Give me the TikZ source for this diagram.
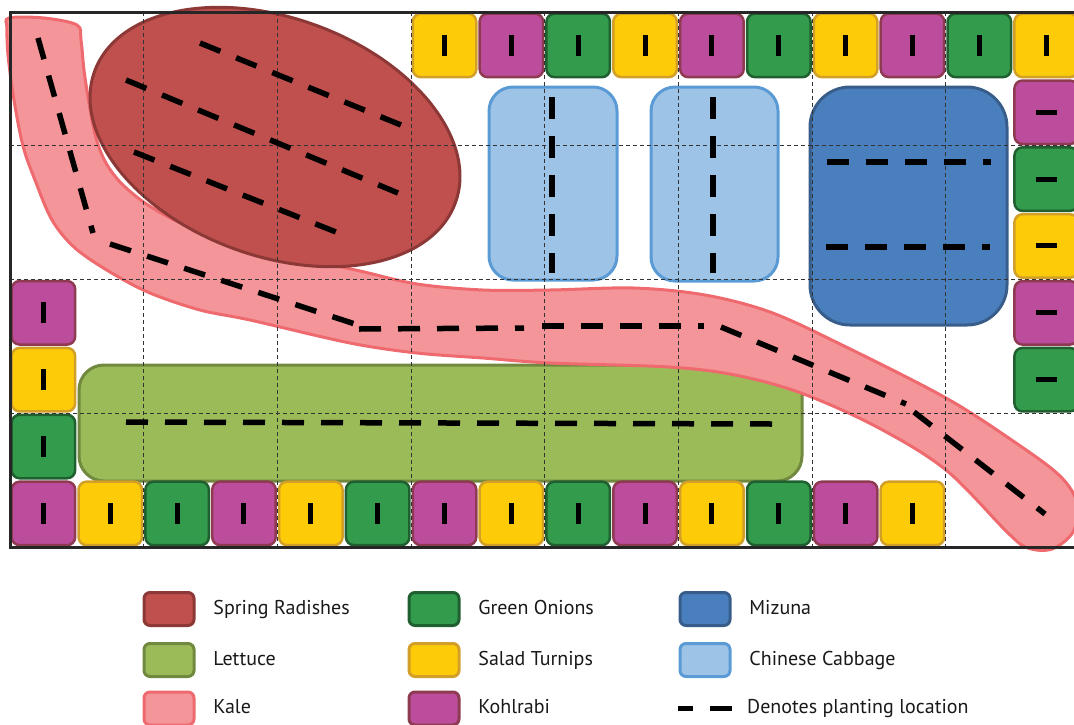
\documentclass[tikz,border=0pt]{standalone}
\usepackage{fontspec}
\setmainfont{PT Sans}
\usetikzlibrary{positioning}

\definecolor{radishFill}{HTML}{C0504D}
\definecolor{radishLine}{HTML}{8C3836}
\definecolor{lettuceFill}{HTML}{9BBB59}
\definecolor{lettuceLine}{HTML}{71893F}
\definecolor{kaleFill}{HTML}{F49599}
\definecolor{kaleLine}{HTML}{EE6A6E}
\definecolor{onionFill}{HTML}{339B4C}
\definecolor{onionLine}{HTML}{1F5F30}
\definecolor{turnipFill}{HTML}{FDCB08}
\definecolor{turnipLine}{HTML}{D29F28}
\definecolor{kohlFill}{HTML}{BC4D9C}
\definecolor{kohlLine}{HTML}{8E3A50}
\definecolor{mizunaFill}{HTML}{4A7FBE}
\definecolor{mizunaLine}{HTML}{385D8A}
\definecolor{cabbageFill}{HTML}{9DC3E6}
\definecolor{cabbageLine}{HTML}{5B9BD5}

\tikzset{
  crop/.style={fill=#1Fill, draw=#1Line},
  bed/.style={line width=3pt},
  tile/.style={rectangle, rounded corners=8pt, line width=2.5pt,
    minimum size=63.5pt, inner sep=0pt},
  plant/.style={line width=5.5pt, dash pattern=on 22pt off 17pt},
  plotgrid/.style={line width=1.1pt, draw=black!80, dash pattern=on 4pt off 3pt},
  swatch/.style={rectangle, rounded corners=6pt, line width=3pt,
    minimum width=50pt, minimum height=33pt},
  legtext/.style={inner sep=0pt, text height=14pt, text depth=4pt,
    font=\fontsize{20pt}{24pt}\selectfont, text=black!90}
}

\begin{document}
\begin{tikzpicture}[x=1pt, y=-1pt]
    \useasboundingbox (0,0) rectangle (1074,724);

    % beds
    \draw[crop=lettuce, bed, rounded corners=25pt] (79,365) rectangle (802,481);
    \draw[crop=kale, bed] plot[smooth cycle, tension=0.55] coordinates {
      (9,18) (44,18) (77,25) (81,40) (84,70) (89,103) (96,138) (106,163)
      (122,184) (148,205) (185,225) (240,245) (300,258) (360,271) (417,284)
      (483,290) (550,290) (634,288) (705,295) (770,312) (840,344) (946,398)
      (1016,443) (1060,476) (1077,503) (1073,532) (1052,549) (1028,548)
      (1008,533) (946,470) (877,427) (801,393) (735,375) (669,367) (550,363)
      (483,358) (417,353) (350,343) (250,320) (200,310) (150,293) (110,272)
      (75,248) (52,220) (35,180) (23,146) (14,100) (8,55) (7,28)};
    \draw[crop=radish, bed, rotate around={-20:(275,137)}]
      (275,137) ellipse [x radius=192pt, y radius=119pt];
    \draw[crop=cabbage, bed, rounded corners=24pt] (489,87) rectangle (617,280);
    \draw[crop=cabbage, bed, rounded corners=24pt] (651,87) rectangle (778,281);
    \draw[crop=mizuna, bed, rounded corners=40pt] (810,87) rectangle (1007,325);

    % border tiles
    \foreach \i/\c in {6/turnip,7/kohl,8/onion,9/turnip,10/kohl,11/onion,
                       12/turnip,13/kohl,14/onion,15/turnip}
      \node[tile, crop=\c] (top\i) at ({10+66.85*(\i+0.5)},45.4) {\rule{5pt}{21pt}};
    \foreach \j/\c in {1/kohl,2/onion,3/turnip,4/kohl,5/onion}
      \node[tile, crop=\c] (rgt\j) at (1046.2,{12+66.85*(\j+0.5)}) {\rule{21pt}{5pt}};
    \foreach \j/\c in {4/kohl,5/turnip,6/onion}
      \node[tile, crop=\c] (lft\j) at (43.4,{12+66.85*(\j+0.5)}) {\rule{5pt}{21pt}};
    \foreach \i/\c in {0/kohl,1/turnip,2/onion,3/kohl,4/turnip,5/onion,6/kohl,
                       7/turnip,8/onion,9/kohl,10/turnip,11/onion,12/kohl,13/turnip}
      \node[tile, crop=\c] (bot\i) at ({10+66.85*(\i+0.5)},513.4) {\rule{5pt}{21pt}};

    % grid
    \foreach \k in {1,...,7}
      \draw[plotgrid] ({10+133.7*\k},12) -- ({10+133.7*\k},547);
    \foreach \k in {1,2,3}
      \draw[plotgrid] (10,{12+133.7*\k}) -- (1080,{12+133.7*\k});

    % planting rows
    \draw[plant] (38,38) -- (93,233);
    \draw[plant] (110,244) -- (355,324);
    \draw[plant] (359,329) -- (524,328);
    \draw[plant] (542,326) -- (704,326);
    \draw[plant] (721,327) -- (906,404);
    \draw[plant] (914,412) -- (1045,514);
    \draw[plant] (200,43) -- (401,125);
    \draw[plant] (126,80) -- (398,193);
    \draw[plant] (134,152) -- (336,232);
    \draw[plant] (552,97) -- (552,273);
    \draw[plant] (713,97) -- (713,273);
    \draw[plant] (827,162) -- (991,162);
    \draw[plant] (826,247) -- (990,247);
    \draw[plant] (126,422) -- (773,424);

    \draw[line width=3pt, draw=black!85] (10,12) rectangle (1080,547);

    % legend
    \node[swatch, crop=radish] (lgRadish) at (169,609) {};
    \node[legtext, right={17.7pt of lgRadish}] (txRadish) {Spring Radishes};
    \node[swatch, crop=lettuce] (lgLettuce) at (169,660) {};
    \node[legtext, right={17.7pt of lgLettuce}] (txLettuce) {Lettuce};
    \node[swatch, crop=kale] (lgKale) at (169,708.5) {};
    \node[legtext, right={17.7pt of lgKale}] (txKale) {Kale};

    \node[swatch, crop=onion] (lgOnion) at (434,609) {};
    \node[legtext, right={17.7pt of lgOnion}] (txOnion) {Green Onions};
    \node[swatch, crop=turnip] (lgTurnip) at (434,660) {};
    \node[legtext, right={17.7pt of lgTurnip}] (txTurnip) {Salad Turnips};
    \node[swatch, crop=kohl] (lgKohl) at (434,708.5) {};
    \node[legtext, right={17.7pt of lgKohl}] (txKohl) {Kohlrabi};

    \node[swatch, crop=mizuna] (lgMizuna) at (705,609) {};
    \node[legtext, right={17.7pt of lgMizuna}] (txMizuna) {Mizuna};
    \node[swatch, crop=cabbage] (lgCabbage) at (705,660) {};
    \node[legtext, right={17.7pt of lgCabbage}] (txCabbage) {Chinese Cabbage};
    \coordinate (lgDashA) at (678,708.5);
    \coordinate (lgDashB) at (732,708.5);
    \draw[plant, dash phase=7pt] (lgDashA) -- (lgDashB);
    \node[legtext, right={15pt of lgDashB}] (txDash) {Denotes planting location};
  \end{tikzpicture}
\end{document}
